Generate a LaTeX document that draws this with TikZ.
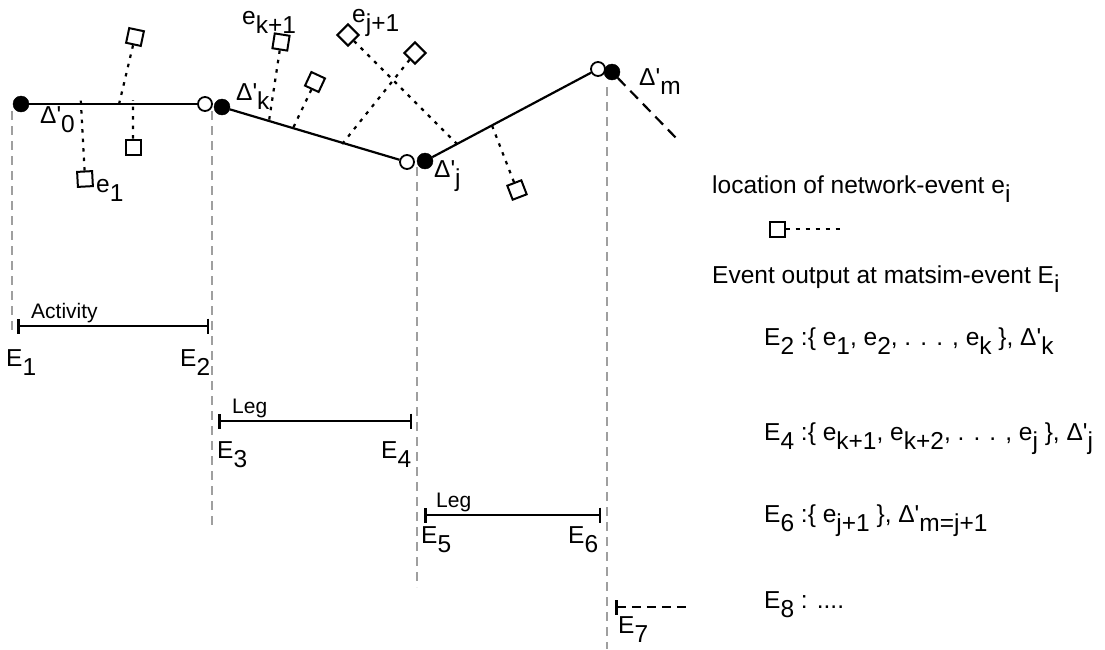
\documentclass[tikz,border=0pt]{standalone}
\usepackage{fontspec}
\setmainfont{Liberation Sans}
\newfontfamily\plainsans{Liberation Sans}
\usetikzlibrary{arrows.meta,calc}
\newcommand\dn[1]{\raisebox{-9pt}{#1}}
\newcommand\pr{{\plainsans\char"27\relax}}

\begin{document}
\begin{tikzpicture}[x=1pt,y=-1pt,font=\fontsize{24.5}{29}\selectfont,
  every node/.style={inner sep=0pt},
  lbl/.style={anchor=base west},
  barlbl/.style={anchor=base west,font=\fontsize{21}{25}\selectfont},
  fdot/.style={circle,draw,fill=black,minimum size=16pt},
  odot/.style={circle,draw,fill=white,line width=1.8pt,minimum size=14pt},
  evsq/.style={rectangle,draw,fill=white,line width=2pt,minimum size=15pt},
  trip/.style={line width=2.2pt},
  dotline/.style={line width=2.2pt,dash pattern=on 3.5pt off 6pt},
  guide/.style={gray!75,line width=2.2pt,dash pattern=on 9pt off 6pt},
  bar/.style={line width=2.5pt,{Bar[width=15pt]}-{Bar[width=15pt]}}]
  \useasboundingbox (0,0) rectangle (1105,649);

  % time guides
  \draw[guide] (12,111) -- (12,330);
  \draw[guide] (212,111) -- (212,530);
  \draw[guide] (417,167) -- (417,587);
  \draw[guide] (607,87) -- (607,649);

  % route with activity and leg end points
  \node[fdot] (a0) at (21,104) {};
  \node[odot] (a1) at (205,104) {};
  \node[fdot] (b0) at (222,107) {};
  \node[odot] (b1) at (407,162) {};
  \node[fdot] (c0) at (425,161) {};
  \node[odot] (c1) at (598,69) {};
  \node[fdot] (d0) at (612,72) {};
  \coordinate (dEnd) at (679,141);
  \draw[trip] (a0) -- (a1);
  \draw[trip] (b0) -- (b1);
  \draw[trip] (c0) -- (c1);
  \draw[trip,dash pattern=on 11pt off 7pt] (d0) -- (dEnd);

  % feet of the network-events on the route
  \coordinate (fa1) at ($(a0)!0.326!(a1)$);
  \coordinate (fa2) at ($(a0)!0.533!(a1)$);
  \coordinate (fa3) at ($(a0)!0.609!(a1)$);
  \coordinate (fb1) at ($(b0)!0.254!(b1)$);
  \coordinate (fb2) at ($(b0)!0.384!(b1)$);
  \coordinate (fb3) at ($(b0)!0.654!(b1)$);
  \coordinate (fc1) at ($(c0)!0.185!(c1)$);
  \coordinate (fc2) at ($(c0)!0.387!(c1)$);

  % network-events
  \node[evsq,rotate=-12] (q1) at (135,37) {};
  \node[evsq] (q2) at (133,147) {};
  \node[evsq,rotate=3] (q3) at (85,179) {};
  \node[evsq,rotate=-9] (q4) at (281,42) {};
  \node[evsq,rotate=-25] (q5) at (315,82) {};
  \node[evsq,rotate=45] (q6) at (348,35) {};
  \node[evsq,rotate=45] (q7) at (415,53) {};
  \node[evsq,rotate=21] (q8) at (517,190) {};
  \draw[dotline,shorten >=-4pt] (q1) -- (fa2);
  \draw[dotline,shorten >=-4pt] (q2) -- (fa3);
  \draw[dotline,shorten >=-4pt] (q3) -- (fa1);
  \draw[dotline,shorten >=-4pt] (q4) -- (fb1);
  \draw[dotline,shorten >=-4pt] (q5) -- (fb2);
  \draw[dotline,shorten >=-4pt] (q6) -- (fc1);
  \draw[dotline,shorten >=-4pt] (q7) -- (fb3);
  \draw[dotline,shorten >=-4pt] (q8) -- (fc2);

  % labels on the route
  \node[lbl] (d0lbl) at (40,123) {Δ\pr\dn{0}};
  \node[lbl] (dklbl) at (236,100) {Δ\pr\dn{k}};
  \node[lbl] (djlbl) at (434,177) {Δ\pr\dn{j}};
  \node[lbl] (dmlbl) at (639,85) {Δ\pr\dn{m}};
  \node[lbl] (e1lbl) at (96,192) {e\dn{1}};
  \node[lbl] (eklbl) at (242,24) {e\dn{k+1}};
  \node[lbl] (ejlbl) at (352,22) {e\dn{j+1}};

  % activity and legs
  \coordinate (act1) at (17,326);
  \coordinate (act2) at (209,326);
  \coordinate (leg1a) at (218,421);
  \coordinate (leg1b) at (412,421);
  \coordinate (leg2a) at (424,515);
  \coordinate (leg2b) at (601,515);
  \coordinate (nxta) at (615,607);
  \coordinate (nxtb) at (686,607);
  \draw[bar] (act1) -- (act2);
  \draw[bar] (leg1a) -- (leg1b);
  \draw[bar] (leg2a) -- (leg2b);
  \draw[line width=2.5pt,dash pattern=on 9pt off 6pt,{Bar[width=15pt]}-] (nxta) -- (nxtb);
  \node[barlbl] (actlbl) at (31,318) {Activity};
  \node[barlbl] (leg1lbl) at (232,413) {Leg};
  \node[barlbl] (leg2lbl) at (436,507) {Leg};
  \node[lbl] (E1) at (6,366) {E\dn{1}};
  \node[lbl] (E2) at (180,366) {E\dn{2}};
  \node[lbl] (E3) at (217,458) {E\dn{3}};
  \node[lbl] (E4) at (381,458) {E\dn{4}};
  \node[lbl] (E5) at (421,543) {E\dn{5}};
  \node[lbl] (E6) at (568,543) {E\dn{6}};
  \node[lbl] (E7) at (618,633) {E\dn{7}};

  % legend
  \node[lbl] (loc) at (712,193) {location of network-event e\dn{i}};
  \node[evsq] (lq) at (777,229) {};
  \coordinate (lqEnd) at (842,229);
  \draw[line width=1.5pt,dash pattern=on 4pt off 6pt] (lq) -- (lqEnd);
  \node[lbl] (out) at (712,283) {Event output at matsim-event E\dn{i}};
  \node[lbl] (o2) at (764,345) {E\dn{2} :\{ e\dn{1}, e\dn{2}, . . . , e\dn{k} \}, Δ\pr\dn{k}};
  \node[lbl] (o4) at (764,440) {E\dn{4} :\{ e\dn{k+1}, e\dn{k+2}, . . . , e\dn{j} \}, Δ\pr\dn{j}};
  \node[lbl] (o6) at (764,522) {E\dn{6} :\{ e\dn{j+1} \}, Δ\pr\dn{m=j+1}};
  \node[lbl] (o8) at (764,608) {E\dn{8} : ....};
\end{tikzpicture}
\end{document}
